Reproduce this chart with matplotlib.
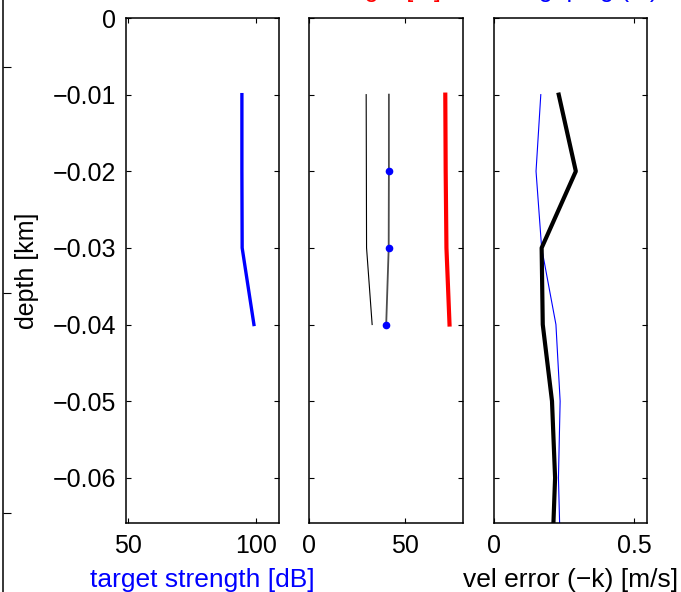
import matplotlib
matplotlib.use("Agg")
import matplotlib.pyplot as plt

plt.rcParams['font.family'] = ['Liberation Sans', 'DejaVu Sans']
plt.rcParams['font.size'] = 18

# depth levels [km]
depth = [-0.01, -0.02, -0.03, -0.04]
depth_full = [-0.01, -0.02, -0.03, -0.04, -0.05, -0.06, -0.07]

# panel 1: target strength [dB]
target_strength = [94.5, 94.5, 94.6, 99.2]

# panel 2: lengths
thin_black = [29.7, 29.8, 29.9, 32.8]
gray_dots = [41.5, 41.5, 41.4, 40.1]
red_length = [70.8, 71.0, 71.4, 73.0]

# panel 3: velocity error
vel_blue = [0.167, 0.150, 0.170, 0.221, 0.236, 0.230, 0.237]
vel_black = [0.231, 0.292, 0.170, 0.174, 0.207, 0.218, 0.208]

yticks = [0, -0.01, -0.02, -0.03, -0.04, -0.05, -0.06]
ytick_labels = ['0' if v == 0 else ('%.2f' % v).replace('-', '\u2212') for v in yticks]

fig = plt.figure(figsize=(6.81, 5.92), dpi=100)
W, H = 681.0, 592.0

def make_axes(left, right, top=18, bottom=523):
    return fig.add_axes([left / W, 1 - bottom / H, (right - left) / W, (bottom - top) / H])

ax1 = make_axes(126, 279)
ax2 = make_axes(309, 463)
ax3 = make_axes(494, 647)

for ax in (ax1, ax2, ax3):
    ax.set_ylim(-0.0659, 0)
    ax.set_yticks(yticks)
    ax.tick_params(direction='in', top=True, right=True, length=3.8, width=0.8, pad=7)
    ax.tick_params(axis='x', pad=8)
    for s in ax.spines.values():
        s.set_linewidth(1.1)

ax1.set_yticklabels(ytick_labels)
ax2.tick_params(labelleft=False)
ax3.tick_params(labelleft=False)

# panel 1
ax1.plot(target_strength, depth, color='blue', lw=2.4)
ax1.set_xlim(49.2, 109)
ax1.set_xticks([50, 100])
ax1.set_xticklabels(['50', '100'])
ax1.set_xlabel('target strength [dB]', color='blue', labelpad=7, fontsize=19)
ax1.set_ylabel('depth [km]', labelpad=10)

# panel 2
ax2.plot(thin_black, depth, color='black', lw=0.8)
ax2.plot(gray_dots, depth, color='0.3', lw=1.3)
ax2.plot(gray_dots[1:], depth[1:], 'o', color='blue', ms=4.5, mec='blue')
ax2.plot(red_length, depth, color='red', lw=3.0)
ax2.set_xlim(0, 80)
ax2.set_xticks([0, 50])
ax2.set_xticklabels(['0', '50'])

# panel 3
ax3.plot(vel_blue, depth_full, color='blue', lw=0.8)
ax3.plot(vel_black, depth_full, color='black', lw=3.0)
ax3.set_xlim(0, 0.546)
ax3.set_xticks([0, 0.5])
ax3.set_xticklabels(['0', '0.5'])
ax3.set_xlabel('vel error (\u2212k) [m/s]', labelpad=7, fontsize=19)

# part of a neighbouring axes cut off at the left edge
ax0 = fig.add_axes([-0.5, 0, 0.5 + 2.5 / W, 1])
ax0.set_ylim(H, 0)
ax0.set_xticks([])
ax0.set_yticks([67, 293, 513])
ax0.yaxis.tick_right()
ax0.tick_params(axis='y', direction='out', length=6, width=0.8, labelright=False)
for k in ('left', 'top', 'bottom'):
    ax0.spines[k].set_visible(False)
ax0.spines['right'].set_linewidth(1.1)

# title mostly cut off at the top
fig.text(441 / W, 1 + 2.5 / H, 'bin length [m]', color='red', ha='right', va='baseline')
fig.text(658 / W, 1 + 2.5 / H, 'binning/ ping (m)', color='blue', ha='right', va='baseline')

fig.savefig('out.png', dpi=100)
